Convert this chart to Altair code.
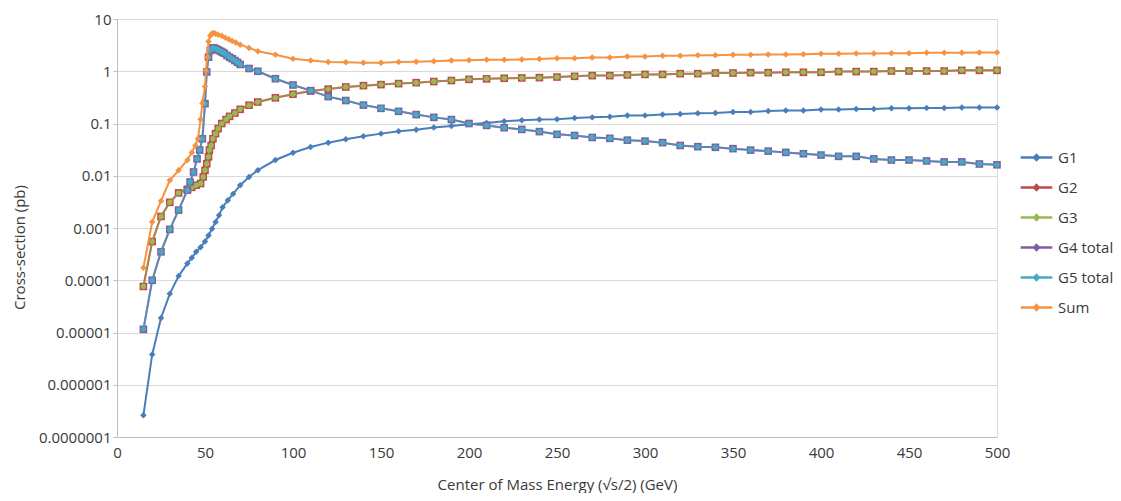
import altair as alt
import pandas as pd

SERIES = ["G1", "G2", "G3", "G4 total", "G5 total", "Sum"]
COLORS = ["#4a7ebb", "#be4b48", "#98b954", "#7d60a0", "#46aac5", "#f69240"]
SHAPES = ["diamond", "square", "circle", "square", "circle", "diamond"]
MSIZE = [42, 58, 30, 58, 30, 42]
LINE_OPACITY = [1, 1, 0.5, 1, 0.5, 1]

X_TAIL = [100, 110, 120, 130, 140, 150, 160, 170, 180, 190, 200, 210, 220, 230,
          240, 250, 260, 270, 280, 290, 300, 310, 320, 330, 340, 350, 360, 370,
          380, 390, 400, 410, 420, 430, 440, 450, 460, 470, 480, 490, 500]

# G1
X_G1_LOW = [15, 20, 25, 30, 35, 40, 42.5, 45, 47.5, 50, 52, 54, 56, 58, 60, 63, 66,
            70, 75, 80, 90]
Y_G1 = [2.6e-7, 3.8e-6, 1.9e-5, 5.5e-5, 1.2e-4, 2.1e-4, 2.7e-4, 3.5e-4, 4.3e-4,
        5.5e-4, 7.2e-4, 9.7e-4, 1.3e-3, 1.75e-3, 2.5e-3, 3.4e-3, 4.5e-3, 6.6e-3,
        9.5e-3, 0.0128, 0.020,
        0.0276, 0.0355, 0.043, 0.050, 0.057, 0.064, 0.071, 0.076, 0.084, 0.090,
        0.097, 0.102, 0.110, 0.115, 0.119, 0.121, 0.127, 0.131, 0.135, 0.142,
        0.143, 0.148, 0.152, 0.157, 0.159, 0.166, 0.166, 0.174, 0.177, 0.177,
        0.185, 0.185, 0.190, 0.190, 0.195, 0.195, 0.198, 0.198, 0.202, 0.202, 0.202]

# G2 and G3 (coincide)
X_G23_LOW = [15, 20, 25, 30, 35, 40, 42.5, 45, 47.5, 49, 50, 51, 52, 52.5, 53.5,
             54.5, 56, 57.5, 59.5, 62, 64, 67, 70, 75, 80, 90]
Y_G2 = [7.6e-5, 5.5e-4, 1.66e-3, 3.1e-3, 4.7e-3, 5.5e-3, 6.0e-3, 6.6e-3, 7.1e-3,
        9.5e-3, 0.0127, 0.017, 0.023, 0.031, 0.038, 0.051, 0.064, 0.080, 0.100,
        0.119, 0.137, 0.159, 0.187, 0.224, 0.258, 0.310,
        0.363, 0.420, 0.455, 0.500, 0.530, 0.555, 0.580, 0.605, 0.635, 0.665,
        0.700, 0.715, 0.735, 0.745, 0.755, 0.775, 0.800, 0.825, 0.825, 0.850,
        0.870, 0.870, 0.900, 0.900, 0.925, 0.925, 0.940, 0.940, 0.955, 0.955,
        0.955, 0.985, 0.985, 0.985, 1.01, 1.01, 1.01, 1.01, 1.04, 1.04, 1.04]
Y_G3 = [7.6e-5, 5.5e-4, 1.66e-3, 3.1e-3, 4.7e-3, 5.5e-3, 6.0e-3, 6.6e-3, 7.1e-3,
        9.5e-3, 0.0127, 0.017, 0.023, 0.031, 0.038, 0.051, 0.064, 0.080, 0.100,
        0.119, 0.137, 0.159, 0.187, 0.224, 0.258, 0.310,
        0.363, 0.420, 0.455, 0.500, 0.530, 0.555, 0.580, 0.605, 0.635, 0.665,
        0.700, 0.715, 0.735, 0.745, 0.755, 0.775, 0.800, 0.825, 0.825, 0.850,
        0.870, 0.870, 0.900, 0.900, 0.925, 0.925, 0.940, 0.940, 0.955, 0.955,
        0.955, 0.985, 0.985, 0.985, 1.01, 1.01, 1.01, 1.01, 1.04, 1.04, 1.04]

# G4 and G5 (coincide)
X_G45_LOW = [15, 20, 25, 30, 35, 40, 41.5, 43.5, 45.5, 47, 48.5, 50, 51, 52, 53, 54,
             55, 56, 57, 58, 59, 60, 61, 62.5, 64, 65.5, 67, 68.5, 70, 75, 80, 90]
Y_G4 = [1.15e-5, 1.0e-4, 3.5e-4, 9.4e-4, 2.2e-3, 5.3e-3, 7.6e-3, 0.0118, 0.021,
        0.031, 0.051, 0.24, 0.97, 1.86, 2.49, 2.75, 2.8, 2.7, 2.6, 2.5, 2.4, 2.3,
        2.2, 2.0, 1.85, 1.74, 1.6, 1.48, 1.35, 1.13, 1.0, 0.72,
        0.545, 0.425, 0.327, 0.275, 0.225, 0.195, 0.171, 0.148, 0.131, 0.119,
        0.100, 0.092, 0.083, 0.077, 0.070, 0.062, 0.059, 0.054, 0.052, 0.048,
        0.046, 0.043, 0.038, 0.036, 0.035, 0.033, 0.031, 0.0296, 0.028, 0.0264,
        0.0249, 0.0235, 0.0235, 0.021, 0.020, 0.020, 0.0192, 0.0184, 0.0184,
        0.0168, 0.0162]
Y_G5 = [1.15e-5, 1.0e-4, 3.5e-4, 9.4e-4, 2.2e-3, 5.3e-3, 7.6e-3, 0.0118, 0.021,
        0.031, 0.051, 0.24, 0.97, 1.86, 2.49, 2.75, 2.8, 2.7, 2.6, 2.5, 2.4, 2.3,
        2.2, 2.0, 1.85, 1.74, 1.6, 1.48, 1.35, 1.13, 1.0, 0.72,
        0.545, 0.425, 0.327, 0.275, 0.225, 0.195, 0.171, 0.148, 0.131, 0.119,
        0.100, 0.092, 0.083, 0.077, 0.070, 0.062, 0.059, 0.054, 0.052, 0.048,
        0.046, 0.043, 0.038, 0.036, 0.035, 0.033, 0.031, 0.0296, 0.028, 0.0264,
        0.0249, 0.0235, 0.0235, 0.021, 0.020, 0.020, 0.0192, 0.0184, 0.0184,
        0.0168, 0.0162]

# Sum
X_SUM_LOW = [15, 20, 25, 30, 35, 40, 42.5, 44.5, 46, 47.5, 48.5, 50, 50.5, 51.3, 52,
             53, 54, 55, 56, 57.5, 59.5, 61.5, 63.5, 65.5, 67.5, 70, 75, 80, 90]
Y_SUM = [1.74e-4, 1.3e-3, 3.3e-3, 8.2e-3, 0.0127, 0.020, 0.028, 0.038, 0.051, 0.12,
         0.245, 0.51, 1.04, 1.86, 3.7, 4.8, 5.3, 5.4, 5.2, 5.0, 4.8, 4.4, 4.1, 3.8,
         3.55, 3.23, 2.8, 2.42, 2.07,
         1.74, 1.61, 1.50, 1.48, 1.46, 1.46, 1.50, 1.52, 1.56, 1.61, 1.63, 1.66,
         1.66, 1.68, 1.71, 1.78, 1.78, 1.84, 1.84, 1.92, 1.92, 1.98, 1.98, 2.03,
         2.03, 2.07, 2.07, 2.09, 2.09, 2.12, 2.16, 2.16, 2.19, 2.19, 2.21, 2.21,
         2.25, 2.25, 2.25, 2.28, 2.28]

TICK_VALUES = [1e-7, 1e-6, 1e-5, 1e-4, 1e-3, 1e-2, 1e-1, 1, 10]
TICK_LABELS = ["0.0000001", "0.000001", "0.00001", "0.0001", "0.001", "0.01",
               "0.1", "1", "10"]
X_TICKS = [0, 50, 100, 150, 200, 250, 300, 350, 400, 450, 500]

FONT = "Open Sans"
TEXT = "#3a3a3a"

series_data = [
    ("G1", X_G1_LOW + X_TAIL, Y_G1),
    ("G2", X_G23_LOW + X_TAIL, Y_G2),
    ("G3", X_G23_LOW + X_TAIL, Y_G3),
    ("G4 total", X_G45_LOW + X_TAIL, Y_G4),
    ("G5 total", X_G45_LOW + X_TAIL, Y_G5),
    ("Sum", X_SUM_LOW + X_TAIL, Y_SUM),
]
rows = []
for name, xs, ys in series_data:
    for x, y in zip(xs, ys):
        rows.append({"series": name, "energy": x, "xsec": y})
df = pd.DataFrame(rows)

label_expr = "[" + ",".join("'%s'" % t for t in TICK_LABELS) + "][round(log(datum.value)/LN10)+7]"

x_enc = alt.X("energy:Q", scale=alt.Scale(domain=[0, 500], nice=False),
              axis=alt.Axis(values=X_TICKS, grid=False, ticks=False, labelPadding=8,
                            labelFlush=False,
                            title="Center of Mass Energy (√s/2) (GeV)", titlePadding=17,
                            domainColor="#bfbfbf", labelFontSize=15, titleFontSize=15,
                            labelFont=FONT, titleFont=FONT, labelColor=TEXT,
                            titleColor=TEXT, titleFontWeight="normal"))
y_enc = alt.Y("xsec:Q", scale=alt.Scale(type="log", domain=[1e-7, 10], nice=False),
              axis=alt.Axis(values=TICK_VALUES, labelExpr=label_expr, grid=True,
                            gridColor="#d9d9d9", domainColor="#bfbfbf", tickColor="#bfbfbf",
                            tickSize=4, labelPadding=2, labelFontSize=15, titleFontSize=15,
                            labelFont=FONT, titleFont=FONT, labelColor=TEXT, titleColor=TEXT,
                            titleFontWeight="normal", title="Cross-section (pb)",
                            titleX=-98, titleY=228, titleBaseline="middle"))

LEGEND_PATH = "M-1,0L1,0M0,-0.15L0.15,0L0,0.15L-0.15,0Z"
color_scale = alt.Scale(domain=SERIES, range=COLORS)

layers = []
for i, name in enumerate(SERIES):
    base = alt.Chart(df).transform_filter(alt.datum.series == name)
    if i == 0:
        leg = alt.Legend(title=None, orient="none", legendX=902, legendY=121,
                         symbolType=LEGEND_PATH, symbolSize=1000, symbolStrokeWidth=2.5,
                         labelFontSize=15, labelFont=FONT, labelColor=TEXT,
                         rowPadding=4, padding=0, labelOffset=4)
    else:
        leg = None
    line = base.mark_line(strokeWidth=2, opacity=LINE_OPACITY[i]).encode(
        x=x_enc, y=y_enc,
        color=alt.Color("series:N", scale=color_scale, legend=leg),
    )
    pts = base.mark_point(shape=SHAPES[i], size=MSIZE[i], filled=True,
                          color=COLORS[i], opacity=1).encode(x=x_enc, y=y_enc)
    layers += [line, pts]

chart = alt.layer(*layers).properties(
    width=880, height=418,
    autosize=alt.AutoSizeParams(type="none"),
    padding={"left": 109, "top": 11, "right": 116, "bottom": 56},
).configure_view(stroke="#bfbfbf").configure(background="white")

chart.save("out.html", embed_options={"renderer": "svg", "actions": False})
